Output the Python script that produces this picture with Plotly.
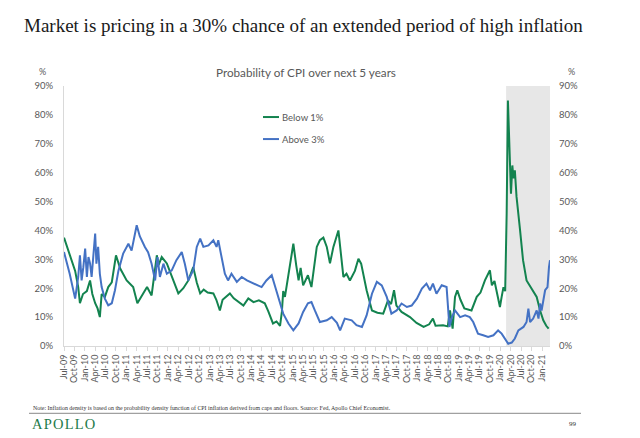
import plotly.graph_objects as go
import pandas as pd

# Probability of CPI over next 5 years (values in %)
below1_dates = [
    "2009-07-01", "2009-08-15", "2009-10-07", "2009-11-03", "2009-11-18", "2009-12-15",
    "2010-01-18", "2010-02-15", "2010-03-07", "2010-04-01", "2010-04-22", "2010-05-12",
    "2010-05-28", "2010-06-25", "2010-07-25", "2010-08-25", "2010-10-01", "2010-11-07",
    "2011-01-03", "2011-03-01", "2011-04-07", "2011-05-28", "2011-07-01", "2011-08-10",
    "2011-09-25", "2011-10-10", "2011-11-07", "2011-12-22", "2012-02-18", "2012-04-01",
    "2012-05-15", "2012-06-28", "2012-08-10", "2012-09-10", "2012-10-10", "2012-11-10",
    "2012-12-15", "2013-02-03", "2013-03-01", "2013-04-01", "2013-04-25", "2013-05-25",
    "2013-06-28", "2013-08-01", "2013-09-15", "2013-10-25", "2013-12-07", "2014-01-22",
    "2014-03-10", "2014-05-01", "2014-06-01", "2014-07-12", "2014-08-12", "2014-09-12",
    "2014-09-28", "2014-10-10", "2014-10-25", "2014-12-10", "2015-01-07", "2015-02-01",
    "2015-02-22", "2015-03-12", "2015-04-03", "2015-05-15", "2015-06-15", "2015-08-01",
    "2015-08-28", "2015-09-28", "2015-10-28", "2015-11-25", "2015-12-25", "2016-02-07",
    "2016-03-01", "2016-03-22", "2016-04-18", "2016-05-18", "2016-07-01", "2016-08-01",
    "2016-08-25", "2016-10-12", "2016-11-28", "2017-01-15", "2017-03-07", "2017-04-18",
    "2017-05-15", "2017-06-10", "2017-07-01", "2017-08-15", "2017-10-28", "2017-12-25",
    "2018-02-25", "2018-04-15", "2018-05-18", "2018-06-10", "2018-08-15", "2018-09-25",
    "2018-10-15", "2018-11-07", "2018-11-28", "2018-12-18", "2019-01-15", "2019-02-18",
    "2019-04-22", "2019-06-07", "2019-07-10", "2019-08-18", "2019-10-01", "2019-10-18",
    "2019-11-10", "2019-12-01", "2019-12-28", "2020-01-12", "2020-01-28", "2020-02-12",
    "2020-02-25", "2020-03-07", "2020-03-22", "2020-04-03", "2020-04-15", "2020-04-25",
    "2020-05-07", "2020-05-22", "2020-06-22", "2020-07-18", "2020-08-18", "2020-09-15",
    "2020-10-15", "2020-11-15", "2020-12-15", "2021-01-12", "2021-02-07", "2021-02-28",
]
below1 = [
    37.5, 32, 26, 20.4, 14.8, 18,
    19, 22.7, 18, 14.8, 13, 10,
    18, 17, 20.4, 22, 31.4, 26.8,
    22.7, 20.4, 14.8, 18.2, 20.4, 17.5,
    31.4, 28, 30.8, 28.6, 22.7, 18.2,
    20, 22.7, 27.3, 22, 18.2, 19.5,
    18.5, 18.2, 16, 12.3, 16, 17,
    18.2, 16.5, 15, 14, 16.5, 15.2,
    15.8, 14.8, 12, 7.8, 8.5, 7,
    11.8, 19, 17, 29, 35.4, 28,
    22.7, 27, 21, 24.5, 20.4, 34.3,
    36.6, 37.5, 34.3, 28.6, 34.3, 40,
    32, 23.9, 25, 22.7, 26, 30.2,
    28.5, 19.3, 12.3, 11.5, 11.2, 15.8,
    14.5, 19.3, 14, 11.8, 10, 8,
    6.6, 7.5, 9.5, 7, 7.2, 6.8,
    12.3, 6, 17, 19.3, 16, 13,
    12.3, 17, 18.5, 22.7, 26.2, 21,
    22.5, 18, 13.5, 17, 20.4, 19,
    45.8, 85, 63, 52.7, 62.5, 58,
    60.8, 51.6, 40, 29.7, 22.7, 21,
    19.3, 17, 12.3, 8.9, 7, 6,
]

above3_dates = [
    "2009-07-01", "2009-08-20", "2009-10-07", "2009-11-03", "2009-11-18", "2009-12-03",
    "2009-12-18", "2010-01-03", "2010-01-18", "2010-02-01", "2010-02-15", "2010-03-01",
    "2010-03-15", "2010-04-01", "2010-04-12", "2010-04-27", "2010-05-12", "2010-05-28",
    "2010-06-25", "2010-07-25", "2010-08-25", "2010-09-22", "2010-10-22", "2010-12-03",
    "2011-01-18", "2011-02-15", "2011-04-01", "2011-04-28", "2011-06-12", "2011-07-10",
    "2011-08-10", "2011-09-10", "2011-10-01", "2011-10-22", "2011-11-22", "2011-12-22",
    "2012-02-03", "2012-03-15", "2012-05-01", "2012-05-28", "2012-06-28", "2012-08-10",
    "2012-09-10", "2012-10-10", "2012-11-07", "2012-12-22", "2013-02-03", "2013-03-03",
    "2013-03-18", "2013-04-15", "2013-05-15", "2013-06-12", "2013-07-12", "2013-08-28",
    "2013-10-10", "2013-11-25", "2014-01-22", "2014-04-03", "2014-05-15", "2014-07-01",
    "2014-08-01", "2014-08-28", "2014-10-10", "2014-11-25", "2015-01-07", "2015-02-22",
    "2015-04-03", "2015-05-15", "2015-06-15", "2015-07-15", "2015-08-28", "2015-10-28",
    "2015-12-10", "2016-01-25", "2016-02-22", "2016-04-03", "2016-06-03", "2016-07-15",
    "2016-09-01", "2016-10-12", "2016-11-28", "2017-01-10", "2017-02-22", "2017-04-07",
    "2017-05-18", "2017-07-03", "2017-08-15", "2017-10-01", "2017-11-12", "2017-12-28",
    "2018-02-10", "2018-03-22", "2018-04-22", "2018-05-18", "2018-06-18", "2018-08-03",
    "2018-09-15", "2018-10-10", "2018-11-01", "2018-11-28", "2019-01-12", "2019-02-25",
    "2019-04-07", "2019-05-07", "2019-06-18", "2019-08-03", "2019-09-15", "2019-11-01",
    "2019-12-12", "2020-01-12", "2020-02-12", "2020-03-10", "2020-04-10", "2020-05-07",
    "2020-06-07", "2020-07-22", "2020-08-18", "2020-09-03", "2020-09-18", "2020-10-15",
    "2020-11-15", "2020-12-01", "2020-12-15", "2020-12-28", "2021-01-28", "2021-02-18",
    "2021-03-03", "2021-03-12",
]
above3 = [
    32.5, 25, 16.4, 23.9, 31.4, 22.7,
    27.3, 33.7, 23.9, 30.8, 28.6, 23.9,
    30.8, 38.9, 28.5, 34.3, 25, 20.4,
    16.4, 14.1, 14.8, 19.3, 26, 32,
    35.4, 33, 41.8, 38, 34.3, 32.5,
    28.5, 22.7, 30.8, 23.9, 28.5, 25,
    26.2, 29.7, 32.5, 28.5, 22.7, 26.2,
    34.3, 37.2, 34.3, 34.8, 36.6, 34.3,
    36.6, 30.8, 25, 22.7, 25, 22.2,
    23.9, 22.7, 21.6, 20.4, 22.7, 24.5,
    20.4, 17, 11.2, 7.8, 5.4, 7.8,
    11.8, 14.8, 15.2, 12.3, 8.3, 8.9,
    10, 8, 5.4, 9.5, 8.9, 7.2,
    6.6, 10.6, 18.1, 22.2, 21, 17,
    11.2, 12.3, 14.7, 13.5, 14, 16.4,
    19.9, 21.6, 19.3, 21.6, 18.1, 21,
    20.4, 6.6, 10, 12.3, 10, 10.6,
    10, 8.3, 4.3, 3.7, 3.1, 3.7,
    5.4, 4.3, 2.6, 0.8, 1.2, 2.6,
    5.4, 6.6, 8.3, 12.9, 8.3, 9.5,
    12.3, 9.5, 14.7, 12.3, 19.3, 20.4,
    27.3, 29.7,
]

# quarterly category ticks, Jul-09 .. Jan-21
tick_dates = pd.date_range("2009-07-01", "2021-01-01", freq="3MS")
tick_labels = [d.strftime("%b-%y") for d in tick_dates]

shade_start = "2020-02-20"
x_start, x_end = "2009-07-01", "2021-03-12"

GREEN = "#13834f"
BLUE = "#4472c4"
GREY = "#595959"
SANS = "Lato, Liberation Sans, sans-serif"
SERIF = "Liberation Serif, DejaVu Serif, serif"

# page body has an 8px margin, so the figure is drawn 8px in from the corner
PAD = 8
W, H = 640, 438
# plot box in page pixels (used to place the decorations)
L, R, T, B = 64, 550, 86, 345.7


def px_x(px):
    return (px - L) / (R - L)


def px_y(py):
    return (B - py) / (B - T)


fig = go.Figure()
fig.add_trace(go.Scatter(x=below1_dates, y=[v / 100 for v in below1], mode="lines",
                         name="Below 1%", line=dict(color=GREEN, width=2)))
fig.add_trace(go.Scatter(x=above3_dates, y=[v / 100 for v in above3], mode="lines",
                         name="Above 3%", line=dict(color=BLUE, width=2)))

# covid shading
fig.add_vrect(x0=shade_start, x1=x_end, fillcolor="#e7e7e7", line_width=0, layer="below")

fig.update_layout(
    width=W - PAD, height=H - PAD,
    margin=dict(l=L - PAD, r=W - R, t=T - PAD, b=H - B),
    paper_bgcolor="white", plot_bgcolor="white",
    showlegend=False,
    font=dict(family=SANS, size=9, color=GREY),
    xaxis=dict(type="date", range=[x_start, x_end], tickvals=tick_dates, ticktext=tick_labels,
               tickangle=-90, ticks="outside", ticklen=4, tickcolor="#d9d9d9",
               showline=True, linecolor="#d9d9d9", linewidth=1, showgrid=False,
               zeroline=False, tickfont=dict(size=9, color=GREY)),
    yaxis=dict(range=[0, 0.9], dtick=0.1, tickformat=".0%", showgrid=False, zeroline=False,
               showline=True, linecolor="#d9d9d9", linewidth=1, ticks="",
               ticklabelstandoff=8, tickfont=dict(size=9.5, color=GREY)),
    yaxis2=dict(range=[0, 0.9], dtick=0.1, tickformat=".0%", overlaying="y", side="right",
                showgrid=False, zeroline=False, showline=False, ticks="",
                ticklabelstandoff=8, tickfont=dict(size=9.5, color=GREY)),
)
# dummy invisible trace so the right axis is drawn
fig.add_trace(go.Scatter(x=[x_start], y=[0], yaxis="y2", mode="markers",
                         marker=dict(opacity=0), hoverinfo="skip", showlegend=False))

anns = [
    dict(text="Market is pricing in a 30% chance of an extended period of high inflation",
         x=px_x(22), y=px_y(26), xanchor="left", yanchor="middle",
         font=dict(family=SERIF, size=19, color="#1a1a1a")),
    dict(text="Probability of CPI over next 5 years", x=px_x(306), y=px_y(72),
         xanchor="center", yanchor="middle", font=dict(size=11.7, color=GREY)),
    dict(text="%", x=px_x(37), y=px_y(72), xanchor="left", yanchor="middle",
         font=dict(size=9, color=GREY)),
    dict(text="%", x=px_x(566), y=px_y(72), xanchor="left", yanchor="middle",
         font=dict(size=9, color=GREY)),
    dict(text="Below 1%", x=px_x(280), y=px_y(117), xanchor="left", yanchor="middle",
         font=dict(size=9.5, color=GREY)),
    dict(text="Above 3%", x=px_x(280), y=px_y(139), xanchor="left", yanchor="middle",
         font=dict(size=9.5, color=GREY)),
    dict(text="Note: Inflation density is based on the probability density function of CPI "
              "inflation derived from caps and floors. Source: Fed, Apollo Chief Economist.",
         x=px_x(31), y=px_y(408), xanchor="left", yanchor="middle",
         font=dict(family=SERIF, size=5.9, color="#333333")),
    dict(text="A\u200aP\u200aO\u200aL\u200aL\u200aO", x=px_x(30), y=px_y(424),
         xanchor="left", yanchor="middle", font=dict(family=SERIF, size=14.5, color="#1e7a4a")),
    dict(text="99", x=px_x(579), y=px_y(424), xanchor="right", yanchor="middle",
         font=dict(family=SERIF, size=7, color="#333333")),
]
for a in anns:
    fig.add_annotation(xref="paper", yref="paper", showarrow=False, **a)

# legend keys and footer rule
fig.add_shape(type="line", xref="paper", yref="paper", x0=px_x(263), x1=px_x(279),
              y0=px_y(117), y1=px_y(117), line=dict(color=GREEN, width=2))
fig.add_shape(type="line", xref="paper", yref="paper", x0=px_x(263), x1=px_x(279),
              y0=px_y(139), y1=px_y(139), line=dict(color=BLUE, width=2))
fig.add_shape(type="line", xref="paper", yref="paper", x0=px_x(29), x1=px_x(581),
              y0=px_y(413), y1=px_y(413), line=dict(color="#a0a0a0", width=1.2))

fig.write_html("out.html")
